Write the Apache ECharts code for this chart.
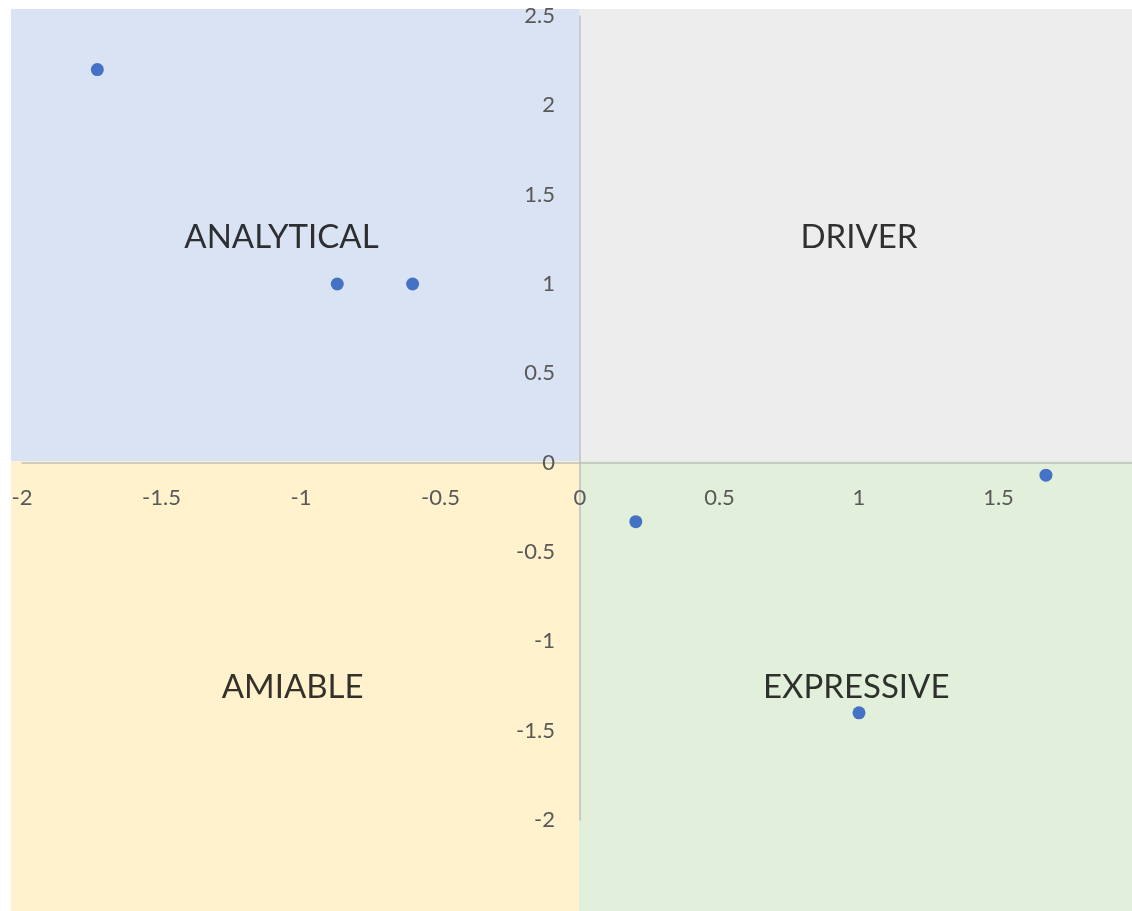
<!DOCTYPE html>
<html>
<head>
<meta charset="utf-8">
<script src="https://cdn.jsdelivr.net/npm/echarts@6/dist/echarts.min.js"></script>
<style>
  html, body { margin: 0; padding: 0; background: #fff; }
  #chart { width: 1132px; height: 911px; }
</style>
</head>
<body>
<div id="chart"></div>
<script>
// points
const pointX = [-1.73, -0.87, -0.6, 0.2, 1.67, 1];
const pointY = [2.2, 1, 1, -0.33, -0.07, -1.4];

// quadrant captions and where they sit
const quadrantNames = ["ANALYTICAL", "DRIVER", "AMIABLE", "EXPRESSIVE"];
const quadrantX = [-1.07, 1.0, -1.03, 0.99];
const quadrantY = [1.26, 1.26, -1.26, -1.26];
const quadrantColors = ["#DAE3F3", "#EDEDED", "#FFF2CC", "#E2EFDA"];

const labelFont = "Lato, 'Open Sans', sans-serif";
const gridBox = { left: 22, right: -6, top: 16, bottom: 91 };

const chart = echarts.init(document.getElementById("chart"));

const option = {
  animation: false,
  grid: Object.assign({ containLabel: false, outerBoundsMode: "none" }, gridBox),
  xAxis: {
    type: "value",
    min: -2,
    max: 2,
    interval: 0.5,
    axisLine: { onZero: false, lineStyle: { color: "#BFBFBF", width: 1.5 } },
    axisTick: { show: false },
    splitLine: { show: false },
    axisLabel: { margin: 24, color: "#595959", fontSize: 22, fontFamily: labelFont, hideOverlap: false }
  },
  yAxis: {
    type: "value",
    min: -2,
    max: 2.5,
    interval: 0.5,
    axisLine: { onZero: false, lineStyle: { color: "#BFBFBF", width: 1.5 } },
    axisTick: { show: false },
    splitLine: { show: false },
    axisLabel: { margin: 25, color: "#595959", fontSize: 22, fontFamily: labelFont, hideOverlap: false }
  },
  series: [
    {
      type: "scatter",
      symbolSize: 13,
      itemStyle: { color: "#4472C4", opacity: 1 },
      data: pointX.map((x, i) => [x, pointY[i]]),
      z: 5
    },
    {
      type: "scatter",
      symbolSize: 0,
      silent: true,
      label: {
        show: true,
        position: "inside",
        formatter: p => p.data[2],
        color: "#000000",
        fontSize: 33,
        fontFamily: labelFont
      },
      data: quadrantNames.map((n, i) => [quadrantX[i], quadrantY[i], n]),
      z: 4
    }
  ]
};

chart.setOption(option);

// move both axes onto the origin, and split the backgrounds there
const o = chart.convertToPixel({ gridIndex: 0 }, [0, 0]);
const W = 1132, H = 911, L = 11, T = 9;
const gridBottom = H - gridBox.bottom;
chart.setOption({
  xAxis: { offset: -(gridBottom - o[1]) },
  yAxis: { offset: -(o[0] - gridBox.left) }
});

const ox = Math.round(o[0]) - 1, oy = Math.round(o[1]) - 2;
const rects = [
  [L, T, ox - L, oy - T],
  [ox, T, W - ox, oy - T],
  [L, oy, ox - L, H - oy],
  [ox, oy, W - ox, H - oy]
];
chart.setOption({
  graphic: rects.map((r, i) => ({
    type: "rect",
    z: -10,
    silent: true,
    shape: { x: r[0], y: r[1], width: r[2], height: r[3] },
    style: { fill: quadrantColors[i] }
  }))
});
</script>
</body>
</html>
